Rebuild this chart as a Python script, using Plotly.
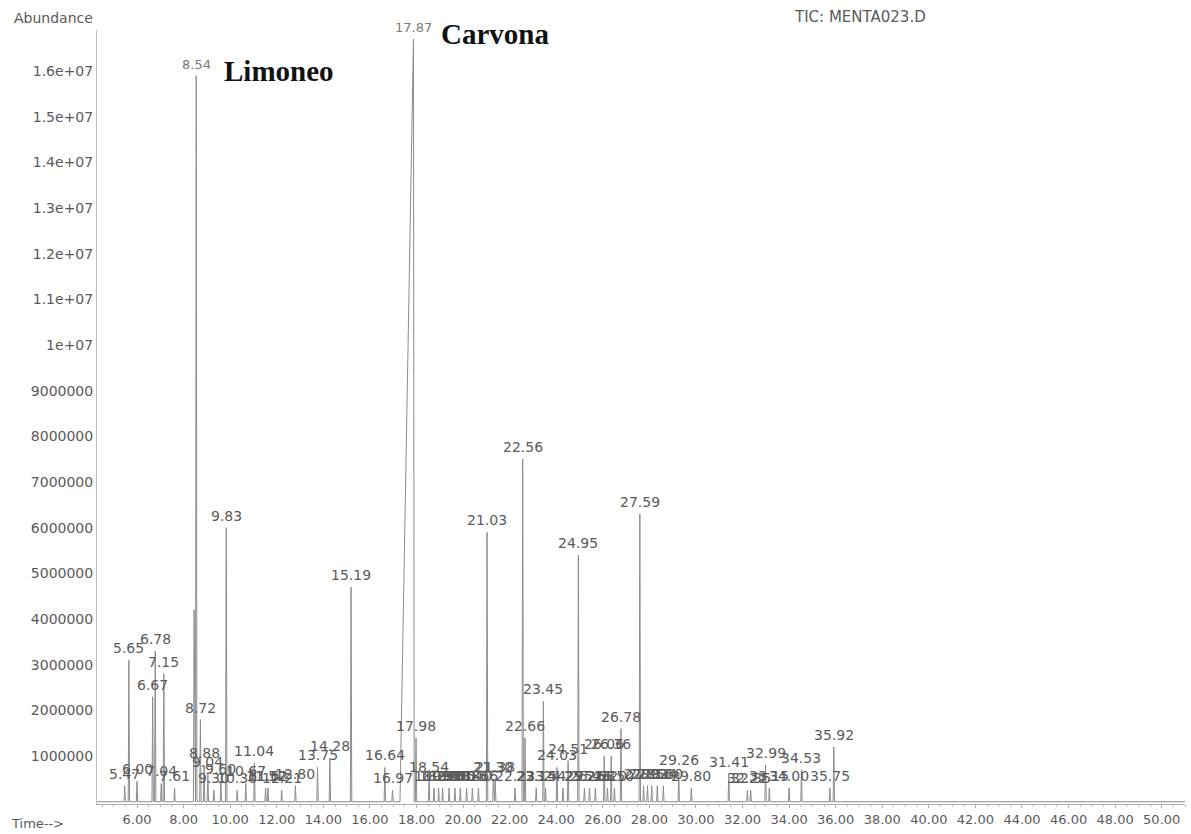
import numpy as np
import plotly.graph_objects as go

# ---- data (retention time in min, abundance) ----
peak_times = [5.47, 5.65, 6.00, 6.67, 6.78, 7.04, 7.15, 7.61, 8.45, 8.54, 8.72, 8.88,
              9.04, 9.30, 9.60, 9.83, 10.30, 10.67, 11.04, 11.52, 11.62, 12.21, 12.80,
              13.75, 14.28, 15.19, 16.64, 16.97, 17.87, 17.98, 18.54, 18.75,
              18.95, 19.12, 19.40, 19.65, 19.88, 20.15, 20.40, 20.66, 21.03, 21.30,
              21.38, 22.23, 22.56, 22.66, 23.14, 23.45, 23.54, 24.03, 24.29, 24.51,
              24.95, 25.21, 25.43, 25.68, 26.06, 26.20, 26.36, 26.50, 26.78, 27.59,
              27.75, 27.92, 28.10, 28.34, 28.60, 29.26, 29.80, 31.41, 32.21, 32.35,
              32.99, 33.15, 34.00, 34.53, 35.75, 35.92]
peak_heights = [0.35e6, 3.1e6, 0.45e6, 2.3e6, 3.3e6, 0.4e6, 2.8e6, 0.3e6, 4.2e6, 15.9e6,
                1.8e6, 0.8e6, 0.6e6, 0.25e6, 0.45e6, 6.0e6, 0.25e6, 0.4e6, 0.85e6,
                0.3e6, 0.3e6, 0.25e6, 0.35e6, 0.75e6, 0.95e6, 4.7e6, 0.75e6, 0.25e6,
                16.7e6, 1.4e6, 0.5e6, 0.3e6, 0.3e6, 0.3e6, 0.3e6, 0.3e6, 0.3e6,
                0.3e6, 0.3e6, 0.3e6, 5.9e6, 0.5e6, 0.5e6, 0.3e6, 7.5e6, 1.4e6, 0.3e6,
                2.2e6, 0.3e6, 0.75e6, 0.3e6, 0.9e6, 5.4e6, 0.3e6, 0.3e6, 0.3e6, 1.0e6,
                0.3e6, 1.0e6, 0.3e6, 1.6e6, 6.3e6, 0.35e6, 0.35e6, 0.35e6, 0.35e6,
                0.35e6, 0.65e6, 0.3e6, 0.6e6, 0.25e6, 0.25e6, 0.8e6, 0.3e6, 0.3e6,
                0.7e6, 0.3e6, 1.2e6]
# time at which each peak starts rising (most are ~0.03 min before the apex;
# the overloaded carvone peak fronts from ~17.29 min)
peak_starts = [t - 0.03 for t in peak_times]
peak_starts[peak_times.index(17.87)] = 17.29
peak_labels = ["5.47", "5.65", "6.00", "6.67", "6.78", "7.04", "7.15", "7.61", "", "8.54",
               "8.72", "8.88", "9.04", "9.30", "9.60", "9.83", "10.30", "10.67", "11.04",
               "11.52", "11.62", "12.21", "12.80", "13.75", "14.28", "15.19", "16.64",
               "16.97", "17.87", "17.98", "18.54", "18.75", "18.95", "19.12", "19.40",
               "19.65", "19.88", "20.15", "20.40", "20.66", "21.03", "21.30", "21.38",
               "22.23", "22.56", "22.66", "23.14", "23.45", "23.54", "24.03", "24.29",
               "24.51", "24.95", "25.21", "25.43", "25.68", "26.06", "26.20", "26.36",
               "26.50", "26.78", "27.59", "27.75", "27.92", "28.10", "28.34", "28.60",
               "29.26", "29.80", "31.41", "32.21", "32.35", "32.99", "33.15", "34.00",
               "34.53", "35.75", "35.92"]
compound_names = ["Limoneo", "Carvona"]
compound_peaks = [8.54, 17.87]
x_ticks = [6, 8, 10, 12, 14, 16, 18, 20, 22, 24, 26, 28, 30, 32, 34, 36, 38, 40, 42, 44, 46, 48, 50]
y_ticks = [1e6, 2e6, 3e6, 4e6, 5e6, 6e6, 7e6, 8e6, 9e6, 1e7, 1.1e7, 1.2e7, 1.3e7, 1.4e7, 1.5e7, 1.6e7]

# ---- build the trace as narrow spikes on a flat baseline ----
order = np.argsort(peak_times)
half_w = 0.03
xs, ys = [4.3], [0.0]
for i in order:
    t, h, s = peak_times[i], peak_heights[i], peak_starts[i]
    xs += [s, t, t + half_w]
    ys += [0.0, h, 0.0]
xs.append(51.0)
ys.append(0.0)

LINE = "#8c8c8c"
TXT = "#5a5a5a"
FONT = "DejaVu Sans"

fig = go.Figure()
fig.add_trace(go.Scatter(x=xs, y=ys, mode="lines",
                         line=dict(color=LINE, width=1), hoverinfo="skip",
                         showlegend=False))

# peak retention-time labels
for t, h, lab in zip(peak_times, peak_heights, peak_labels):
    if not lab:
        continue
    big = lab in ("8.54", "17.87")
    fig.add_annotation(x=t, y=h, text=lab, showarrow=False, xanchor="center",
                       yanchor="bottom", yshift=2,
                       font=dict(family=FONT, size=13 if big else 14,
                                 color="#7a7a7a" if big else TXT))

# compound names
for name, t in zip(compound_names, compound_peaks):
    h = peak_heights[peak_times.index(t)]
    fig.add_annotation(x=t, y=h, text="<b>" + name + "</b>", showarrow=False,
                       xanchor="left", yanchor="bottom", xshift=26, yshift=-13,
                       font=dict(family="Liberation Serif", size=29, color="#111111"))

def fmt(v):
    return f"{v:.0f}" if v < 1e7 else f"{v:g}"

fig.update_layout(
    width=1191, height=834,
    margin=dict(l=97, r=6, t=30, b=30),
    paper_bgcolor="white", plot_bgcolor="white",
    font=dict(family=FONT, color=TXT),
    xaxis=dict(range=[4.28, 51.0], tickvals=x_ticks,
               ticktext=[f"{v:.2f}" for v in x_ticks],
               showgrid=False, zeroline=False, showline=True, linecolor="#b0b0b0",
               linewidth=1, ticks="outside", ticklen=3, tickcolor="#b0b0b0",
               minor=dict(dtick=0.5, ticks="outside", ticklen=2, tickcolor="#c0c0c0"),
               tickfont=dict(family=FONT, size=13, color=TXT)),
    yaxis=dict(range=[-0.05e6, 16.9e6], tickvals=y_ticks,
               ticktext=[fmt(v) for v in y_ticks],
               showgrid=False, zeroline=False, showline=True, linecolor="#c0c0c0",
               linewidth=1, ticks="", tickfont=dict(family=FONT, size=14, color=TXT)),
)

fig.add_annotation(xref="paper", yref="paper", x=-0.078, y=1.016, text="Abundance",
                   showarrow=False, xanchor="left", yanchor="middle",
                   font=dict(family=FONT, size=14, color=TXT))
fig.add_annotation(xref="paper", yref="paper", x=0.639, y=1.017, text="TIC: MENTA023.D",
                   showarrow=False, xanchor="left", yanchor="middle",
                   font=dict(family=FONT, size=15, color=TXT))
fig.add_annotation(xref="paper", yref="paper", x=-0.081, y=-0.025, text="Time-->",
                   showarrow=False, xanchor="left", yanchor="middle",
                   font=dict(family=FONT, size=13, color=TXT))

fig.write_html("out.html", config={"displayModeBar": False},
               post_script="document.body.style.margin='0';document.body.style.overflow='hidden';")
